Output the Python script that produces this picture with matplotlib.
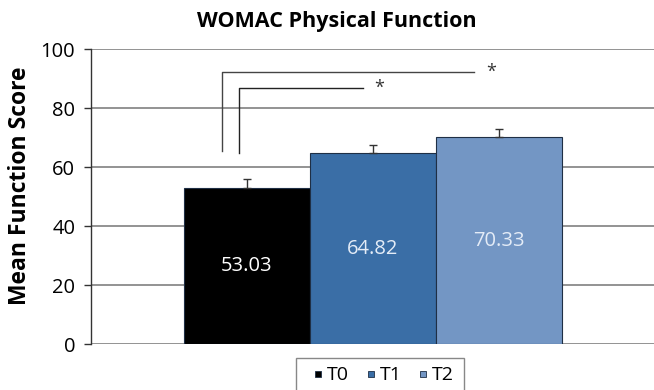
import matplotlib
matplotlib.use("Agg")
import matplotlib.pyplot as plt
from matplotlib.lines import Line2D
from matplotlib.patches import Rectangle

plt.rcParams['font.family'] = ['Open Sans', 'DejaVu Sans']

groups = ["T0", "T1", "T2"]
means = [53.03, 64.82, 70.33]
errors = [3.1, 2.7, 2.6]
colors = ["#000000", "#3a6ea6", "#7396c4"]
label_colors = ["#ffffff", "#e4ecf7", "#e4ecf7"]
yticks = [0, 20, 40, 60, 80, 100]

W, H = 654, 390
fig = plt.figure(figsize=(6.54, 3.9), dpi=100)
ax = fig.add_axes([90.5/W, 1-344.3/H, 1-90.5/W, (344.3-49.3)/H])

xpos = [-1, 0, 1]
ax.bar(xpos, means, width=1.0, color=colors, edgecolor="#1f2f45", linewidth=0.8, zorder=3)
ax.errorbar(xpos, means, yerr=[[0, 0, 0], errors], fmt='none', ecolor="#333333",
            elinewidth=1.0, capsize=3, capthick=1.0, zorder=4)

for x, m, c in zip(xpos, means, label_colors):
    ax.text(x, m/2, f"{m:.2f}", ha='center', va='center', color=c, fontsize=14.5, zorder=5)

ax.set_xlim(-2.242, 2.23)
ax.set_ylim(0, 100)
ax.set_yticks(yticks)
ax.set_yticklabels([str(t) for t in yticks], fontsize=14.5)
ax.set_xticks([])
ax.yaxis.grid(True, color="#8a8a8a", linewidth=1.3, zorder=0)
ax.set_axisbelow(True)
for s in ["top", "right", "bottom"]:
    ax.spines[s].set_visible(False)
ax.spines["left"].set_color("#333333")
ax.spines["left"].set_linewidth(1.0)
ax.tick_params(axis='y', length=5, width=1.0, color="#333333", pad=6)
fig.text(20/W, 1-186/H, "Mean Function Score", rotation=90, ha='center', va='center',
         fontsize=16.5, fontweight='bold')
fig.text(337/W, 1-22/H, "WOMAC Physical Function", ha='center', va='center',
         fontsize=15.5, fontweight='bold')

# significance brackets
ax.plot([-1.195, -1.195, 0.80], [65.5, 92.2, 92.2], color="#444444", lw=1.0, zorder=2)
ax.text(0.94, 92.2, "*", ha='center', va='center', fontsize=13, color="#333333")
ax.plot([-1.066, -1.066, -0.08], [65.0, 86.9, 86.9], color="#222222", lw=1.0, zorder=2)
ax.text(0.045, 86.9, "*", ha='center', va='center', fontsize=13, color="#333333")

# legend box (extends past the bottom edge as in the reference)
fig.patches.append(Rectangle((296/W, 1-396/H), (464-296)/W, (396-358)/H,
                             transform=fig.transFigure, facecolor="white",
                             edgecolor="#888888", linewidth=1.0, zorder=1))
handles = [Line2D([0], [0], marker='s', linestyle='none', markersize=4,
                  markerfacecolor=c, markeredgecolor="#1f2f45", markeredgewidth=0.6)
           for c in colors]
leg = fig.legend(handles, groups, loc='center', bbox_to_anchor=(384/W, 1-375.5/H),
                 ncol=3, fontsize=14, frameon=False, handlelength=0.4,
                 handletextpad=0.25, columnspacing=0.9, borderpad=0.0)

fig.savefig("out.png", dpi=100)
